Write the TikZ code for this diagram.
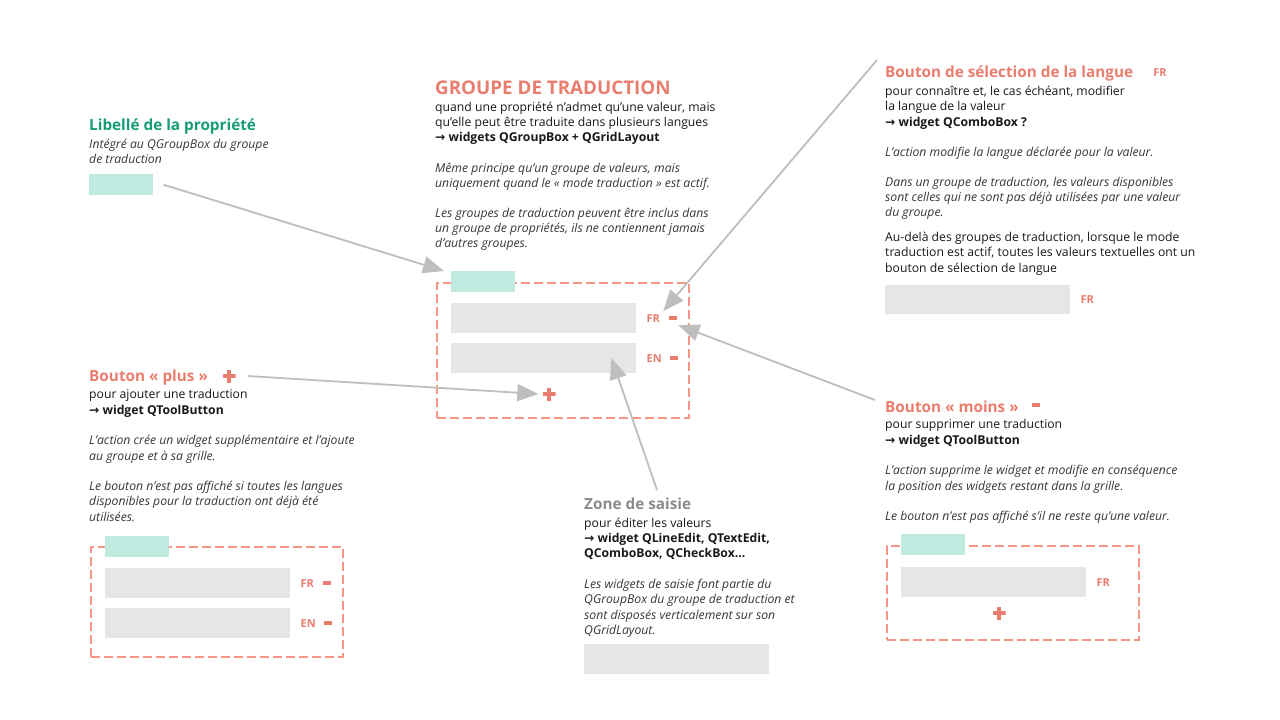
\documentclass[tikz,border=0pt]{standalone}
\usepackage{fontspec}
\setmainfont{Open Sans}
\newfontfamily\symfont{DejaVu Sans}
\usetikzlibrary{arrows.meta, positioning}
\definecolor{salmontext}{RGB}{233,125,110}
\definecolor{salmondash}{RGB}{246,150,134}
\definecolor{libgreen}{RGB}{22,156,118}
\definecolor{tagmint}{RGB}{192,234,224}
\definecolor{fieldgray}{RGB}{230,230,230}
\definecolor{arrowgray}{RGB}{190,190,190}
\definecolor{zonegray}{RGB}{138,138,138}
\definecolor{bodyink}{RGB}{25,25,25}
\definecolor{noteink}{RGB}{55,55,55}
\newcommand{\arr}{{\symfont\char"2192}}
\newcommand{\note}[1]{{\itshape\color{noteink}#1}}

\begin{document}
\begin{tikzpicture}[x=1pt, y=-1pt,
    headtxt/.style={anchor=north west, inner sep=0pt, font=\fontsize{15.3}{18}\selectfont\bfseries},
    bodytxt/.style={anchor=north west, inner sep=0pt, align=left, text=bodyink, font=\fontsize{12.2}{15.4}\selectfont},
    mintag/.style={anchor=north west, fill=tagmint, inner sep=0pt, minimum width=64pt, minimum height=21pt},
    valfield/.style={anchor=north west, fill=fieldgray, inner sep=0pt, minimum width=185pt, minimum height=30pt},
    dashframe/.style={anchor=north west, draw=salmondash, line width=1.8pt, dash pattern=on 9pt off 4pt, inner sep=0pt, minimum width=252pt},
    langlbl/.style={inner sep=0pt, text=salmontext, font=\fontsize{11}{13}\selectfont\bfseries},
    minusbtn/.style={fill=salmontext, inner sep=0pt, minimum width=8pt, minimum height=3.6pt},
    plusbtn/.style={fill=white, inner sep=0pt, minimum size=13pt, path picture={
        \fill[salmontext] ([yshift=-1.7pt]path picture bounding box.west) rectangle ([yshift=1.7pt]path picture bounding box.east);
        \fill[salmontext] ([xshift=-1.7pt]path picture bounding box.north) rectangle ([xshift=1.7pt]path picture bounding box.south);}},
    arrow/.style={-{Triangle[length=21pt, width=17pt]}, line width=1.8pt, arrowgray}
]
\fill[white] (0,0) rectangle (1280,720);
\useasboundingbox (0,0) rectangle (1280,720);

% Libelle de la propriete
\node[headtxt, text=libgreen] (libhead) at (89,118.5) {Libellé de la propriété};
\node[bodytxt] (libbody) at (89,138.5) {\note{Intégré au QGroupBox du groupe}\\ \note{de traduction}};
\node[mintag] (libtag) at (89,174) {};

% Groupe de traduction
\node[headtxt, text=salmontext, font=\fontsize{18.8}{22}\selectfont\bfseries] (grphead) at (435,80.5) {GROUPE DE TRADUCTION};
\node[bodytxt] (grpbody) at (435,101.5) {
    quand une propriété n'admet qu'une valeur, mais\\
    qu'elle peut être traduite dans plusieurs langues\\
    \textbf{\arr\ widgets QGroupBox + QGridLayout}\\[15pt]
    \note{Même principe qu'un groupe de valeurs, mais}\\
    \note{uniquement quand le « mode traduction » est actif.}\\[14pt]
    \note{Les groupes de traduction peuvent être inclus dans}\\
    \note{un groupe de propriétés, ils ne contiennent jamais}\\
    \note{d'autres groupes.}
};
\node[dashframe, minimum height=135pt] (grpframe) at (436,282) {};
\node[mintag] (grptag) at (451,271) {};
\node[valfield] (grpfr) at (451,303) {};
\node[valfield] (grpen) at (451,343) {};
\node[langlbl, right=10pt of grpfr] (grpfrlbl) {FR};
\node[minusbtn, right=9pt of grpfrlbl] (grpfrmin) {};
\node[langlbl, right=10pt of grpen] (grpenlbl) {EN};
\node[minusbtn, right=8pt of grpenlbl] (grpenmin) {};
\node[plusbtn] (grpplus) at (549,394) {};

% Bouton de selection de la langue
\node[headtxt, text=salmontext] (selhead) at (885,65.5) {Bouton de sélection de la langue};
\node[langlbl] (selhdr) at (1160,73) {FR};
\node[bodytxt] (selbody) at (885,86) {
    pour connaître et, le cas échéant, modifier\\
    la langue de la valeur\\
    \textbf{\arr\ widget QComboBox ?}\\[14.5pt]
    \note{L'action modifie la langue déclarée pour la valeur.}\\[14.5pt]
    \note{Dans un groupe de traduction, les valeurs disponibles}\\
    \note{sont celles qui ne sont pas déjà utilisées par une valeur}\\
    \note{du groupe.}\\[9pt]
    Au-delà des groupes de traduction, lorsque le mode\\
    traduction est actif, toutes les valeurs textuelles ont un\\
    bouton de sélection de langue
};
\node[valfield, minimum height=29pt] (selfield) at (885,285) {};
\node[langlbl, right=10pt of selfield] (selfr) {FR};

% Bouton plus
\node[headtxt, text=salmontext] (plushead) at (89,369.5) {Bouton « plus »};
\node[plusbtn] (plushdr) at (229,376) {};
\node[bodytxt] (plusbody) at (89,389.5) {
    pour ajouter une traduction\\
    \textbf{\arr\ widget QToolButton}\\[15pt]
    \note{L'action crée un widget supplémentaire et l'ajoute}\\
    \note{au groupe et à sa grille.}\\[15pt]
    \note{Le bouton n'est pas affiché si toutes les langues}\\
    \note{disponibles pour la traduction ont déjà été}\\
    \note{utilisées.}
};
\node[dashframe, minimum height=110pt] (plusframe) at (90,546) {};
\node[mintag] (plustag) at (105,536) {};
\node[valfield] (plusfr) at (105,568) {};
\node[valfield] (plusen) at (105,608) {};
\node[langlbl, right=10pt of plusfr] (plusfrlbl) {FR};
\node[minusbtn, right=9pt of plusfrlbl] (plusfrmin) {};
\node[langlbl, right=10pt of plusen] (plusenlbl) {EN};
\node[minusbtn, right=8pt of plusenlbl] (plusenmin) {};

% Zone de saisie
\node[headtxt, text=zonegray] (zonehead) at (584,498) {Zone de saisie};
\node[bodytxt] (zonebody) at (584,517.5) {
    pour éditer les valeurs\\
    \textbf{\arr\ widget QLineEdit, QTextEdit,}\\
    \textbf{QComboBox, QCheckBox...}\\[15pt]
    \note{Les widgets de saisie font partie du}\\
    \note{QGroupBox du groupe de traduction et}\\
    \note{sont disposés verticalement sur son}\\
    \note{QGridLayout.}
};
\node[valfield] (zonefield) at (584,644) {};

% Bouton moins
\node[headtxt, text=salmontext] (minhead) at (885,400.5) {Bouton « moins »};
\node[minusbtn] (minhdr) at (1036,405) {};
\node[bodytxt] (minbody) at (885,419.5) {
    pour supprimer une traduction\\
    \textbf{\arr\ widget QToolButton}\\[15pt]
    \note{L'action supprime le widget et modifie en conséquence}\\
    \note{la position des widgets restant dans la grille.}\\[15pt]
    \note{Le bouton n'est pas affiché s'il ne reste qu'une valeur.}
};
\node[dashframe, minimum height=94pt] (minframe) at (886,545) {};
\node[mintag] (mintag) at (901,534) {};
\node[valfield] (minfr) at (901,567) {};
\node[langlbl, right=10pt of minfr] (minfrlbl) {FR};
\node[plusbtn] (minplus) at (999,613) {};

% Arrows
\coordinate (zonetail) at (657,490);
\coordinate (seltail) at (877,60);
\coordinate (mintail) at (875,400);
\draw[arrow] ([xshift=10pt]libtag.east) -- ([xshift=-7pt]grptag.north west);
\draw[arrow] ([xshift=12pt]plushdr.east) -- ([xshift=-4pt]grpplus.west);
\draw[arrow] (zonetail) -- ([xshift=-25pt]grpen.east);
\draw[arrow] (seltail) -- ([xshift=10pt, yshift=3pt]grpfrlbl.north);
\draw[arrow] (mintail) -- ([xshift=1pt, yshift=-5pt]grpfrmin.south east);

\end{tikzpicture}
\end{document}
